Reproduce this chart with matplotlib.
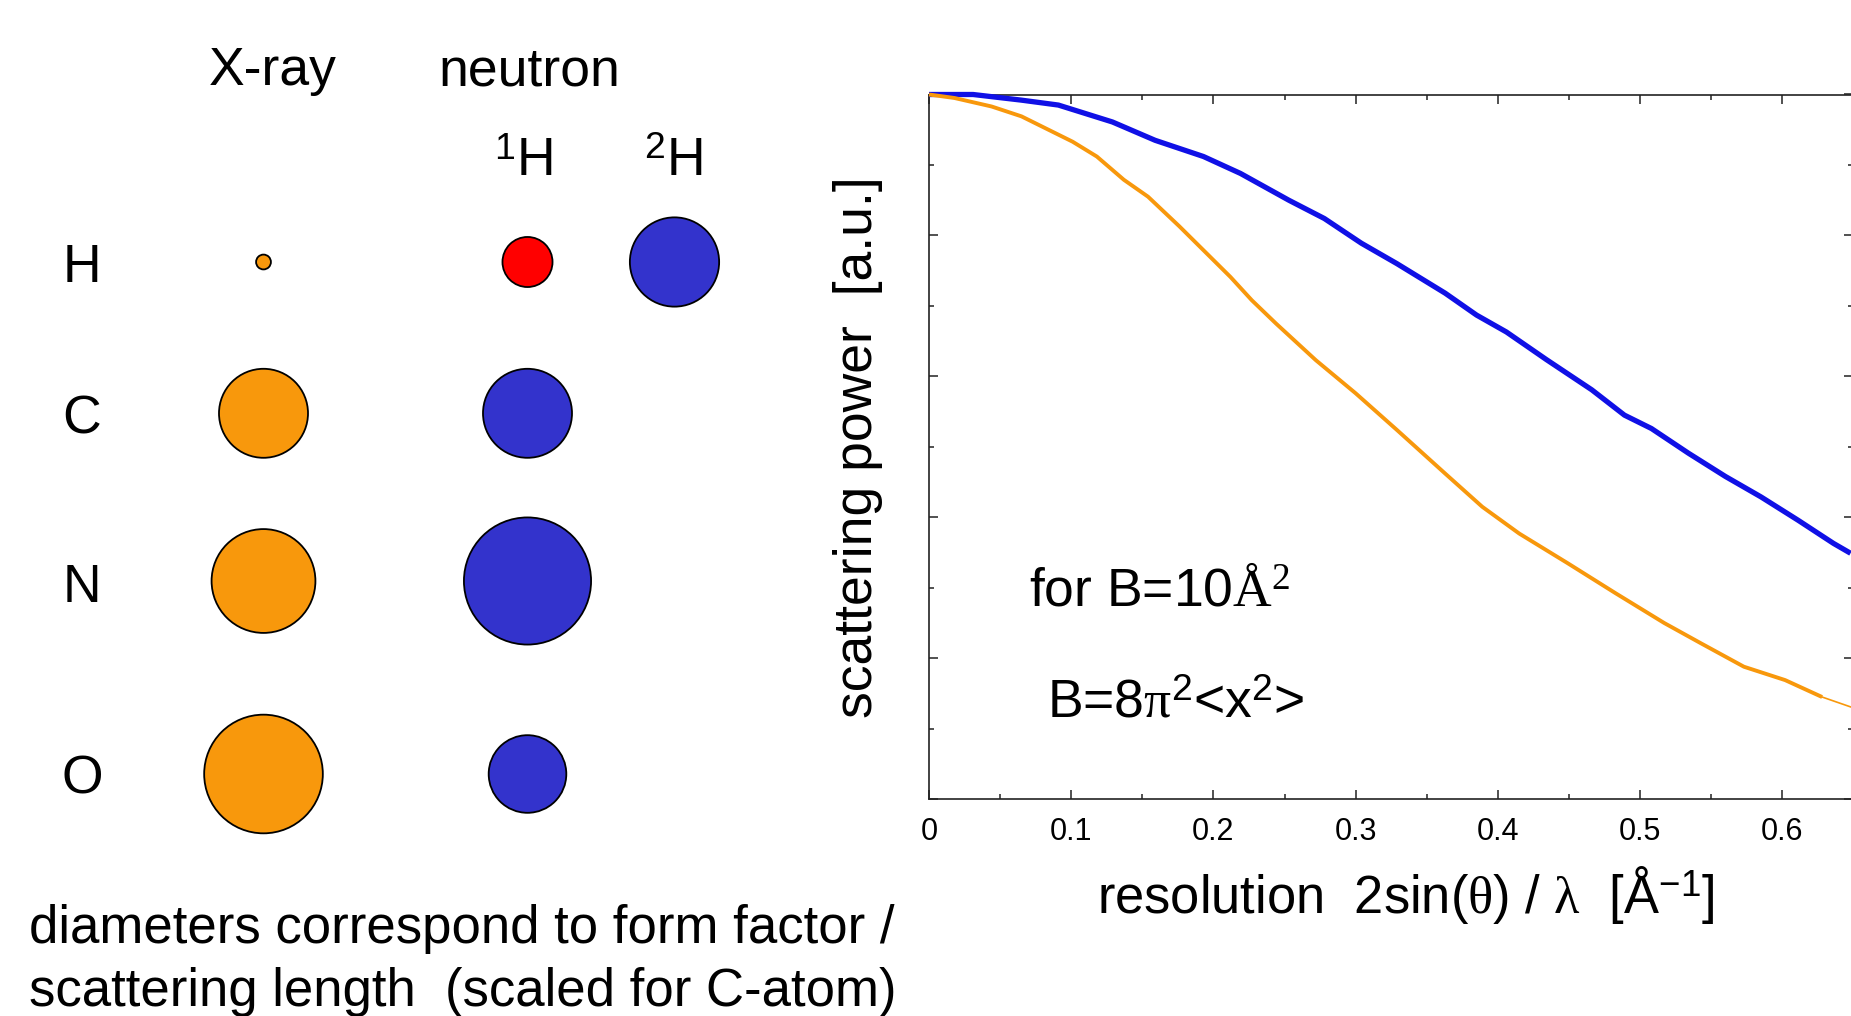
import numpy as np
import matplotlib
matplotlib.use("Agg")
import matplotlib.pyplot as plt
from matplotlib.patches import Circle
from matplotlib.ticker import MultipleLocator, FuncFormatter

# ---------------------------------------------------------------------------
# Data
# ---------------------------------------------------------------------------
elements   = ["H", "C", "N", "O"]
xray_f     = [1.0, 6.0, 7.0, 8.0]          # X-ray form factor f(0) [electrons]
neutron_b  = [-3.74, 6.65, 9.50, 5.80]      # neutron scattering length [fm]
deut_b     = 6.67                           # 2H scattering length [fm]

# scattering power vs resolution (B = 10 A^2), arbitrary units
res_neutron = [0.0, 0.031, 0.065, 0.091, 0.129, 0.159, 0.193, 0.219, 0.253,
               0.278, 0.304, 0.329, 0.363, 0.385, 0.406, 0.434, 0.466, 0.489,
               0.508, 0.534, 0.560, 0.585, 0.611, 0.636, 0.648]
pow_neutron = [1.000, 1.000, 0.992, 0.985, 0.961, 0.935, 0.912, 0.888, 0.850,
               0.824, 0.789, 0.760, 0.718, 0.687, 0.663, 0.624, 0.581, 0.545,
               0.526, 0.491, 0.458, 0.429, 0.396, 0.363, 0.349]

res_xray = [0.0, 0.018, 0.044, 0.065, 0.082, 0.101, 0.118, 0.137, 0.154,
            0.176, 0.193, 0.212, 0.227, 0.244, 0.272, 0.300, 0.329, 0.363,
            0.389, 0.415, 0.449, 0.483, 0.517, 0.543, 0.573, 0.602, 0.628,
            0.648]
pow_xray = [1.000, 0.995, 0.983, 0.969, 0.952, 0.933, 0.912, 0.879, 0.855,
            0.813, 0.779, 0.741, 0.708, 0.675, 0.623, 0.576, 0.524, 0.462,
            0.415, 0.377, 0.335, 0.292, 0.250, 0.221, 0.188, 0.169, 0.145,
            0.131]

# ---------------------------------------------------------------------------
# Styling
# ---------------------------------------------------------------------------
plt.rcParams["font.family"] = ["Liberation Sans", "DejaVu Sans"]
plt.rcParams["mathtext.fontset"] = "custom"
plt.rcParams["mathtext.rm"] = "Liberation Serif"
plt.rcParams["mathtext.it"] = "Liberation Serif:italic"
plt.rcParams["mathtext.bf"] = "Liberation Serif:bold"
plt.rcParams["mathtext.sf"] = "Liberation Sans"

ORANGE = "#f8980c"
BLUE_FILL = "#3333cc"
RED = "#ff0000"
BLUE_LINE = "#1010e6"
BIG = 38.5

W, H = 1851, 1016
fig = plt.figure(figsize=(W / 100, H / 100), dpi=100)

# ── left side: circles drawn in a pixel-space overlay ───────────────────────
ov = fig.add_axes([0, 0, 1, 1])
ov.set_xlim(0, W)
ov.set_ylim(H, 0)
ov.axis("off")

col_x = {"xray": 263.5, "neutron": 527.5, "deut": 674.5}
row_y = [262, 413.3, 581, 774]
label_base = [282.3, 433.5, 601.7, 793.5]
D_C = 89.0   # diameter given to the C atom in each column

for i, el in enumerate(elements):
    ov.text(82, label_base[i], el, fontsize=BIG, ha="center", va="baseline")
    d_x = xray_f[i] / xray_f[1] * D_C
    ov.add_patch(Circle((col_x["xray"], row_y[i]), d_x / 2, facecolor=ORANGE,
                        edgecolor="k", linewidth=1.3))
    b = neutron_b[i]
    d_n = abs(b) / neutron_b[1] * D_C
    ov.add_patch(Circle((col_x["neutron"], row_y[i]), d_n / 2,
                        facecolor=RED if b < 0 else BLUE_FILL,
                        edgecolor="k", linewidth=1.3))
d_d = deut_b / neutron_b[1] * D_C
ov.add_patch(Circle((col_x["deut"], row_y[0]), d_d / 2, facecolor=BLUE_FILL,
                    edgecolor="k", linewidth=1.3))

ov.text(272.5, 85, "X-ray", fontsize=BIG, ha="center", va="baseline")
ov.text(529, 85, "neutron", fontsize=BIG, ha="center", va="baseline")
ov.text(523, 176, r"$^{\mathsf{1}}$H", fontsize=BIG, ha="center", va="baseline")
ov.text(673, 176, r"$^{\mathsf{2}}$H", fontsize=BIG, ha="center", va="baseline")
ov.text(29, 943, "diameters correspond to form factor /", fontsize=38,
        ha="left", va="baseline")
ov.text(29, 1006, "scattering length  (scaled for C-atom)", fontsize=38,
        ha="left", va="baseline")

# ── right side: scattering power curves ─────────────────────────────────────
left, right, top, bottom = 929.0, 1853.4, 94.5, 799.2
ax = fig.add_axes([left / W, (H - bottom) / H, (right - left) / W,
                   (bottom - top) / H])
ax.set_facecolor("none")
ax.set_xlim(0, 0.65)
ax.set_ylim(0, 1)

ax.plot(res_neutron, pow_neutron, color=BLUE_LINE, lw=3.8, clip_on=False,
        solid_capstyle="butt", solid_joinstyle="round", zorder=3)
ax.plot(res_xray[:-1], pow_xray[:-1], color=ORANGE, lw=2.8, clip_on=False,
        solid_capstyle="butt", solid_joinstyle="round", zorder=3)
ax.plot(res_xray[-2:], pow_xray[-2:], color=ORANGE, lw=1.2, clip_on=False,
        zorder=3)

ax.xaxis.set_major_locator(MultipleLocator(0.1))
ax.xaxis.set_minor_locator(MultipleLocator(0.05))
ax.yaxis.set_major_locator(MultipleLocator(0.2))
ax.yaxis.set_minor_locator(MultipleLocator(0.1))
ax.xaxis.set_major_formatter(FuncFormatter(
    lambda v, p: "0" if abs(v) < 1e-9 else f"{v:.1f}"))
ax.yaxis.set_major_formatter(FuncFormatter(lambda v, p: ""))
ax.tick_params(which="both", direction="in", top=True, right=True,
               width=1.1, color="#222222")
ax.tick_params(which="major", length=6.8, pad=13, labelsize=22)
ax.tick_params(which="minor", length=3.8)
for sp in ax.spines.values():
    sp.set_linewidth(1.2)
    sp.set_color("#222222")

# axis labels / annotations of the right panel (pixel overlay on top)
top_ov = fig.add_axes([0, 0, 1, 1])
top_ov.set_xlim(0, W)
top_ov.set_ylim(H, 0)
top_ov.axis("off")
top_ov.text(872, 447, "scattering power  [a.u.]", fontsize=BIG, rotation=90,
            rotation_mode="anchor", ha="center", va="baseline")
top_ov.text(1097, 913,
            r"resolution  2sin($\mathrm{\theta}$) / $\mathrm{\lambda}$  [Å$^{\mathsf{-1}}$]",
            fontsize=37.8, ha="left", va="baseline")
top_ov.text(1029, 605, r"for B=10$\mathrm{\AA}^{\mathrm{2}}$", fontsize=BIG,
            ha="left", va="baseline")
top_ov.text(1047, 717, r"B=8$\mathrm{\pi}^{\mathsf{2}}$<x$^{\mathsf{2}}$>",
            fontsize=BIG, ha="left", va="baseline")

fig.savefig("out.png", dpi=100)
